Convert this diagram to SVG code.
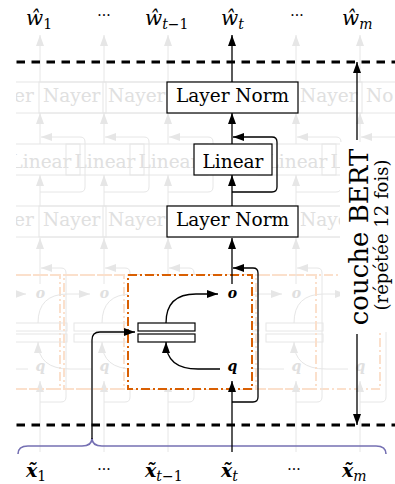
<svg xmlns="http://www.w3.org/2000/svg" width="395" height="484" viewBox="0 0 395 484">
<defs>
<style>
.ln{fill:none;stroke:#000;stroke-width:1.3}
.arr{marker-end:url(#ah)}
.box{fill:#fff;stroke:#000;stroke-width:1.2}
.lbl{font-family:"DejaVu Serif",serif;font-size:18.5px;text-anchor:middle;fill:#000}
.gl{fill:none;stroke:#e6e6e6;stroke-width:1}
.ga{marker-end:url(#gh)}
.gt{font-family:"DejaVu Serif",serif;font-size:18.5px;fill:#e0e0e0}
.gtm{text-anchor:middle}
.mv{font-family:"DejaVu Serif",serif;font-size:14px;font-weight:bold;font-style:italic;text-anchor:middle}
.gmv{fill:#e0e0e0}
.math{font-family:"DejaVu Serif",serif;font-size:20px;font-style:italic;fill:#000}
.mathb{font-family:"DejaVu Serif",serif;font-size:19px;font-style:italic;font-weight:bold;fill:#000}
.sub{font-size:14px;font-weight:normal}
.up{font-style:normal}
.dots{font-family:"DejaVu Serif",serif;font-size:14px;text-anchor:middle;fill:#000}
.dash{fill:none;stroke:#000;stroke-width:3;stroke-dasharray:8.5 6.5}
.att{fill:#fff;stroke:#d95f02;stroke-width:2;stroke-dasharray:9 3 2 3}
.gatt{fill:none;stroke:#fbe0cc;stroke-width:2;stroke-dasharray:9 3 2 3}
.bar{fill:#fff;stroke:#000;stroke-width:1.2}
.bert{font-family:"DejaVu Serif",serif;text-anchor:middle;fill:#000}
</style>
<marker id="ah" viewBox="0 0 11 8" refX="11" refY="4" markerWidth="11" markerHeight="8" markerUnits="userSpaceOnUse" orient="auto"><path d="M0,0 L11,4 L0,8 Z" fill="#000"/></marker>
<marker id="gh" viewBox="0 0 11 8" refX="11" refY="4" markerWidth="11" markerHeight="8" markerUnits="userSpaceOnUse" orient="auto"><path d="M0,0 L11,4 L0,8 Z" fill="#e6e6e6"/></marker>
<clipPath id="gclip"><rect x="16" y="0" width="379" height="484"/></clipPath>
<g id="ghost-col">
  <rect class="gatt" x="128" y="275" width="124" height="114"/>
  <rect class="gl" x="138" y="323" width="57" height="8"/>
  <rect class="gl" x="138" y="334" width="57" height="8"/>
  <path class="gl ga" d="M232,452 V381"/>
  <path class="gl ga" d="M232,402 H253 Q258,402 258,397 V273 Q258,268 253,268 H233"/>
  <path class="gl ga" d="M166,323 Q166,294 196,294 H218"/>
  <path class="gl ga" d="M220,369 H198 Q166,369 166,342"/>
  <text class="mv gmv" x="232.5" y="298">o</text>
  <text class="mv gmv" x="232.5" y="371">q</text>
  <path class="gl ga" d="M232,284 V238"/>
  <rect class="gl" x="167" y="206" width="131" height="31"/>
  <path class="gl ga" d="M232,206 V175"/>
  <path class="gl ga" d="M232,192 H272 Q277,192 277,187 V142 Q277,137 272,137 H233"/>
  <rect class="gl" x="194" y="144" width="78" height="31"/>
  <text class="gt gtm" x="233" y="168">Linear</text>
  <path class="gl ga" d="M232,144 V113"/>
  <rect class="gl" x="167" y="82" width="131" height="31"/>
  <path class="gl ga" d="M232,82 V35"/>
</g>
</defs>

<g id="ghost-columns" clip-path="url(#gclip)">
  <use href="#ghost-col" x="-192"/>
  <use href="#ghost-col" x="-128"/>
  <use href="#ghost-col" x="-64"/>
  <use href="#ghost-col" x="128"/>
  <use href="#ghost-col" x="64"/>
  <text class="gt" x="14" y="102">er</text>
  <text class="gt" x="43" y="102">Nayer</text>
  <text class="gt" x="108" y="102">Nayer</text>
  <text class="gt" x="300" y="102">Nayer</text>
  <text class="gt" x="366" y="102">No</text>
  <text class="gt" x="14" y="226">er</text>
  <text class="gt" x="43" y="226">Nayer</text>
  <text class="gt" x="108" y="226">Nayer</text>
  <text class="gt" x="300" y="226">Nayer</text>
</g>

<g id="layer-bounds">
  <line class="dash" x1="16.5" y1="62" x2="395" y2="62"/>
  <line class="dash" x1="16.5" y1="425" x2="395" y2="425"/>
</g>

<path id="brace" d="M18,454 Q18,446 28,446 H82 Q92,446 92,438 Q92,446 102,446 H376 Q386,446 386,454" fill="none" stroke="#7570b3" stroke-width="1.6"/>

<g id="attention">
  <rect class="att" x="128" y="275" width="124" height="114"/>
  <rect class="bar" x="138" y="323" width="57" height="8"/>
  <rect class="bar" x="138" y="334" width="57" height="8"/>
  <text class="mv" x="232.5" y="298">o</text>
  <text class="mv" x="232.5" y="371">q</text>
</g>

<g id="layernorm-bottom">
  <rect class="box" x="167" y="206" width="131" height="31"/>
  <text class="lbl" x="232.5" y="226">Layer Norm</text>
</g>

<g id="linear">
  <rect class="box" x="194" y="144" width="78" height="31"/>
  <text class="lbl" x="233" y="168">Linear</text>
</g>

<g id="layernorm-top">
  <rect class="box" x="167" y="82" width="131" height="31"/>
  <text class="lbl" x="232.5" y="102">Layer Norm</text>
</g>

<g id="bert-label">
  <rect x="340" y="142" width="55" height="190" fill="#fff"/>
  <text class="bert" font-size="26" transform="translate(368,237) rotate(-90)">couche BERT</text>
  <text class="bert" font-size="18" transform="translate(388,235) rotate(-90)">(répétée 12 fois)</text>
</g>

<g id="connectors">
  <path class="ln arr" d="M232,452 V381"/>
  <path class="ln arr" d="M232,402 H253 Q258,402 258,397 V273 Q258,268 253,268 H233"/>
  <path class="ln arr" d="M92,439 V340 Q92,332 100,332 H135"/>
  <path class="ln arr" d="M166,323 Q166,294 196,294 H218"/>
  <path class="ln arr" d="M220,369 H198 Q166,369 166,342"/>
  <path class="ln arr" d="M232,284 V238"/>
  <path class="ln arr" d="M232,206 V175"/>
  <path class="ln arr" d="M232,192 H272 Q277,192 277,187 V142 Q277,137 272,137 H233"/>
  <path class="ln arr" d="M232,144 V113"/>
  <path class="ln arr" d="M232,82 V35"/>
  <path class="ln arr" d="M357,140 V62"/>
  <path class="ln arr" d="M357,334 V425"/>
</g>

<g id="outputs">
  <text class="math" x="26" y="25">ŵ<tspan class="sub up" dy="4">1</tspan></text>
  <text class="dots" x="104" y="20">···</text>
  <text class="math" x="145" y="25">ŵ<tspan class="sub" dy="4">t<tspan class="up">−1</tspan></tspan></text>
  <text class="math" x="221" y="25">ŵ<tspan class="sub" dy="4">t</tspan></text>
  <text class="dots" x="297" y="20">···</text>
  <text class="math" x="342" y="25">ŵ<tspan class="sub" dy="4">m</tspan></text>
</g>

<g id="inputs">
  <text class="mathb" x="26" y="477">x̃<tspan class="sub up" dy="4">1</tspan></text>
  <text class="dots" x="104" y="474">···</text>
  <text class="mathb" x="145" y="477">x̃<tspan class="sub" dy="4">t<tspan class="up">−1</tspan></tspan></text>
  <text class="mathb" x="221" y="477">x̃<tspan class="sub" dy="4">t</tspan></text>
  <text class="dots" x="294" y="474">···</text>
  <text class="mathb" x="342" y="477">x̃<tspan class="sub" dy="4">m</tspan></text>
</g>
</svg>
